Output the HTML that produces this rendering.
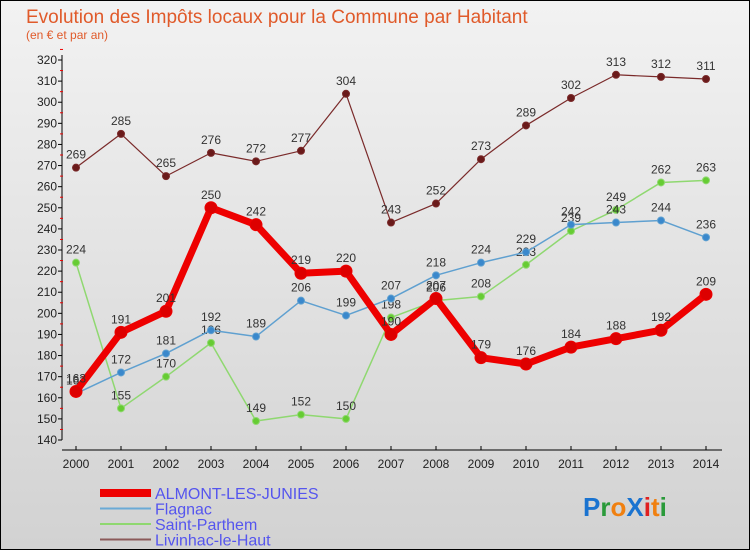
<!DOCTYPE html>
<html><head><meta charset="utf-8"><style>
body{margin:0}
#wrap{width:750px;height:550px;position:relative;overflow:hidden;font-family:"Liberation Sans",sans-serif}
</style></head><body>
<div id="wrap">
<svg id="svg" width="750" height="550" xmlns="http://www.w3.org/2000/svg">
<defs><linearGradient id="bg" x1="0" y1="0" x2="0" y2="1"><stop offset="0" stop-color="#f2f2f2"/><stop offset="1" stop-color="#d2d2d2"/></linearGradient></defs>
<rect x="0.5" y="0.5" width="749" height="549" fill="url(#bg)" stroke="#000"/>
<text x="26" y="23" font-size="19" fill="#e05a2a">Evolution des Impôts locaux pour la Commune par Habitant</text>
<text x="26" y="39" font-size="12" fill="#e05a2a">(en € et par an)</text>
<g id="axes"></g><g id="series"></g><g id="legend"></g>
<g font-size="26" font-weight="bold">
<text x="583" y="516"><tspan fill="#1a73d0">P</tspan><tspan fill="#2a9a3a">r</tspan><tspan fill="#f08010">o</tspan><tspan fill="#1a73d0">X</tspan><tspan fill="#e02020">i</tspan><tspan fill="#f08010">t</tspan><tspan fill="#2a9a3a">i</tspan></text>
</g>
</svg></div>
<script>
const years=[2000,2001,2002,2003,2004,2005,2006,2007,2008,2009,2010,2011,2012,2013,2014];
const almont=[163,191,201,250,242,219,220,190,207,179,176,184,188,192,209];
const flagnac=[162,172,181,192,189,206,199,207,218,224,229,242,243,244,236];
const saintParthem=[224,155,170,186,149,152,150,198,206,208,223,239,249,262,263];
const livinhac=[269,285,265,276,272,277,304,243,252,273,289,302,313,312,311];
const yTicks=[140,150,160,170,180,190,200,210,220,230,240,250,260,270,280,290,300,310,320];
const NS="http://www.w3.org/2000/svg";
function X(i){return 76+i*45;}
function Y(v){return 440-(v-140)*380/180;}
function mk(tag,attrs,parent){const e=document.createElementNS(NS,tag);for(const k in attrs)e.setAttribute(k,attrs[k]);parent.appendChild(e);return e;}
const axes=document.getElementById('axes');
let yl=mk('line',{x1:62,y1:55,x2:62,y2:440,stroke:'#000'},axes);


let xl=mk('line',{x1:62,y1:450,x2:722,y2:450,stroke:'#000'},axes);


yTicks.forEach(v=>{
 mk('line',{x1:58,y1:Y(v),x2:62,y2:Y(v),stroke:'#000'},axes);
 mk('line',{x1:60,y1:Y(v+5),x2:63,y2:Y(v+5),stroke:'#e00'},axes);
 const t=mk('text',{x:57,y:Y(v)+4,'font-size':12,'text-anchor':'end',fill:'#222'},axes);
 t.textContent=v;
 
 
});
years.forEach((yr,i)=>{
 mk('line',{x1:X(i),y1:446,x2:X(i),y2:450,stroke:'#000'},axes);
 const t=mk('text',{x:X(i),y:468,'font-size':12,'text-anchor':'middle',fill:'#222'},axes);
 t.textContent=yr;
 
 
});
const ser=document.getElementById('series');
function draw(vals,color,w,r,name,dot){
 const g=mk('g',{},ser);
 
 
 const p=mk('polyline',{points:vals.map((v,i)=>X(i)+','+Y(v)).join(' '),fill:'none',stroke:color,'stroke-width':w,'stroke-linejoin':'round'},g);
 
 
 vals.forEach((v,i)=>{
  const c=mk('circle',{cx:X(i),cy:Y(v),r:r,fill:dot,stroke:color,'stroke-width':1},g);
  
  
  const t=mk('text',{x:X(i),y:Y(v)-9,'font-size':12,'text-anchor':'middle',fill:'#333'},g);
  t.textContent=v;
  
  
 });
}
draw(livinhac,'#7a2a2a',1.2,3.5,'livinhac','#6a1a1a');
draw(saintParthem,'#8fd870',1.5,3.5,'saint-parthem','#66cc33');
draw(flagnac,'#5fa0d0',1.5,3.5,'flagnac','#3a88cc');
draw(almont,'#ee0000',7,6,'almont','#dd0000');
const lg=document.getElementById('legend');
const items=[['ALMONT-LES-JUNIES','#ee0000',8],['Flagnac','#6aaad6',2],['Saint-Parthem','#8fd870',2],['Livinhac-le-Haut','#8b5a5a',2]];
items.forEach((it,i)=>{
 const y=493+i*15.5;
 const g=mk('g',{},lg);
 
 
 mk('line',{x1:100,y1:y,x2:151,y2:y,stroke:it[1],'stroke-width':it[2]},g);
 const t=mk('text',{x:155,y:y+6,'font-size':16,fill:'#5555ee'},g);
 t.textContent=it[0];
});
</script>
</body></html>
